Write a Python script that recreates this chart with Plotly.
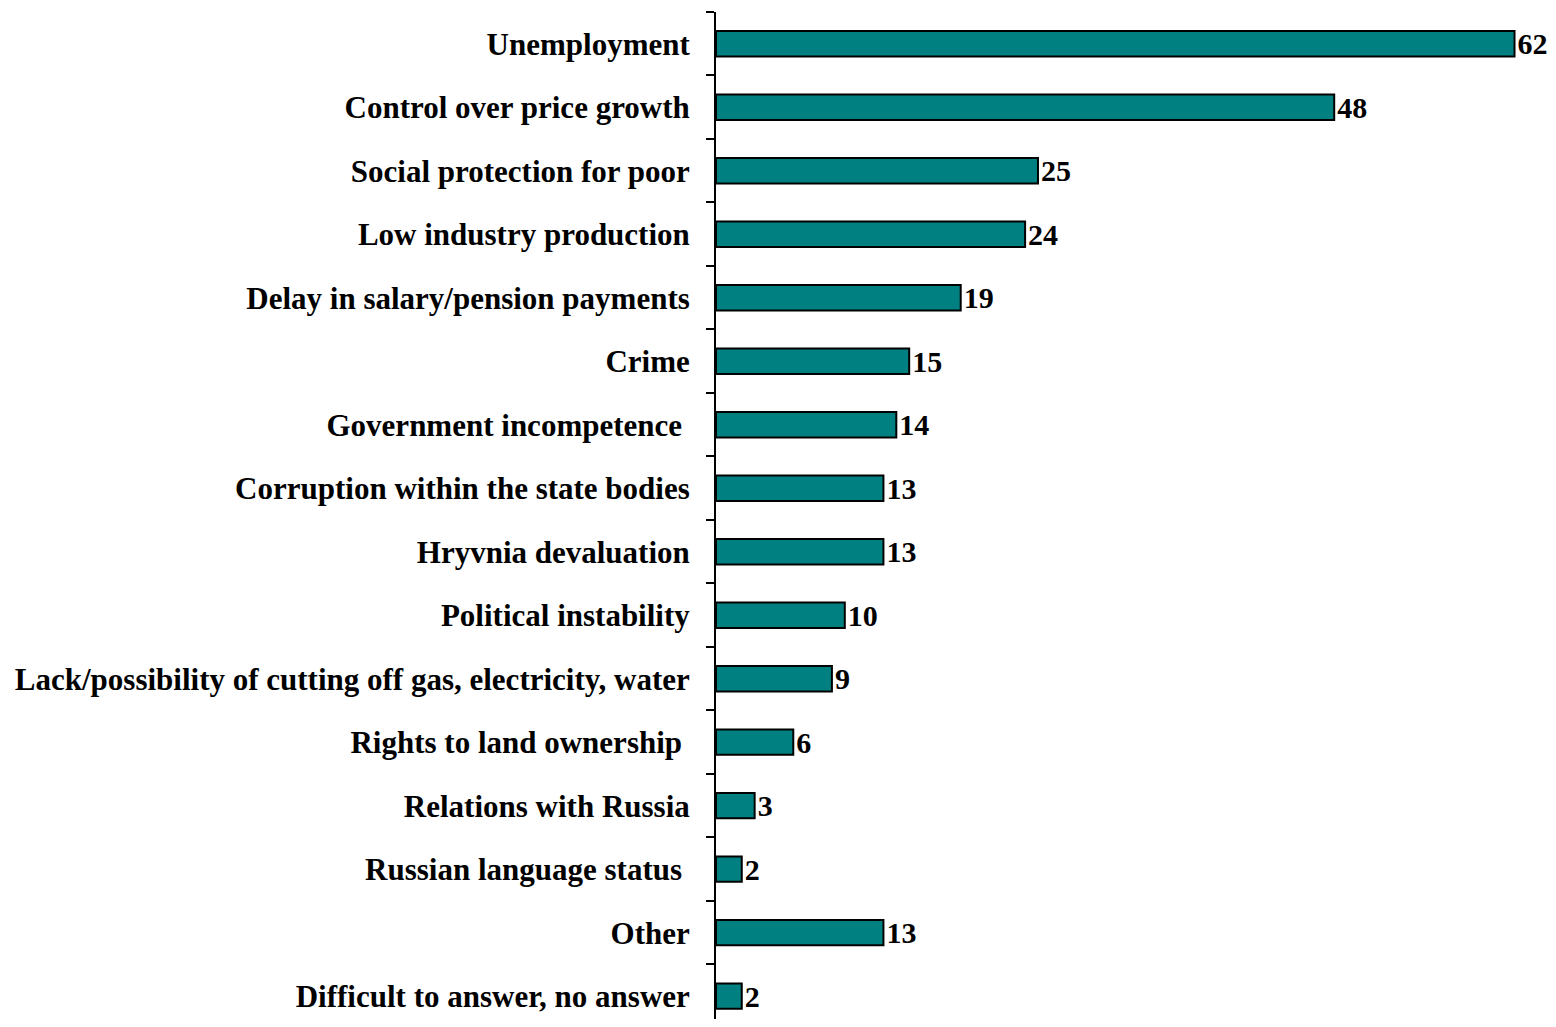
import plotly.graph_objects as go

categories = [
    "Unemployment",
    "Control over price growth",
    "Social protection for poor",
    "Low industry production",
    "Delay in salary/pension payments",
    "Crime",
    "Government incompetence\u00a0",
    "Corruption within the state bodies",
    "Hryvnia devaluation",
    "Political instability",
    "Lack/possibility of cutting off gas, electricity, water",
    "Rights to land ownership\u00a0",
    "Relations with Russia",
    "Russian language status\u00a0",
    "Other",
    "Difficult to answer, no answer",
]
values = [62, 48, 25, 24, 19, 15, 14, 13, 13, 10, 9, 6, 3, 2, 13, 2]

font_family = "Liberation Serif, Times New Roman, serif"

fig = go.Figure(
    go.Bar(
        x=values,
        y=categories,
        orientation="h",
        marker=dict(color="#008080", line=dict(color="black", width=2)),
        width=0.4,
        text=[str(v) for v in values],
        textposition="outside",
        constraintext="none",
        textfont=dict(family=font_family, size=30, color="black", weight="bold"),
        cliponaxis=False,
    )
)

fig.update_layout(
    width=1540,
    height=1011,
    margin=dict(l=708, r=0, t=4, b=0),
    plot_bgcolor="white",
    paper_bgcolor="white",
    showlegend=False,
    bargap=0.6,
)
fig.update_xaxes(
    range=[0, 64.6],
    visible=False,
    showgrid=False,
    zeroline=False,
    automargin=False,
)
fig.update_yaxes(
    type="category",
    range=[15.36, -0.5],
    automargin=False,
    showline=True,
    linecolor="black",
    linewidth=2,
    ticks="outside",
    tickson="boundaries",
    ticklen=8,
    tickwidth=2,
    tickcolor="black",
    ticklabelstandoff=18,
    tickfont=dict(family=font_family, size=31, color="black", weight="bold"),
    showgrid=False,
)

fig.write_html("out.html")
